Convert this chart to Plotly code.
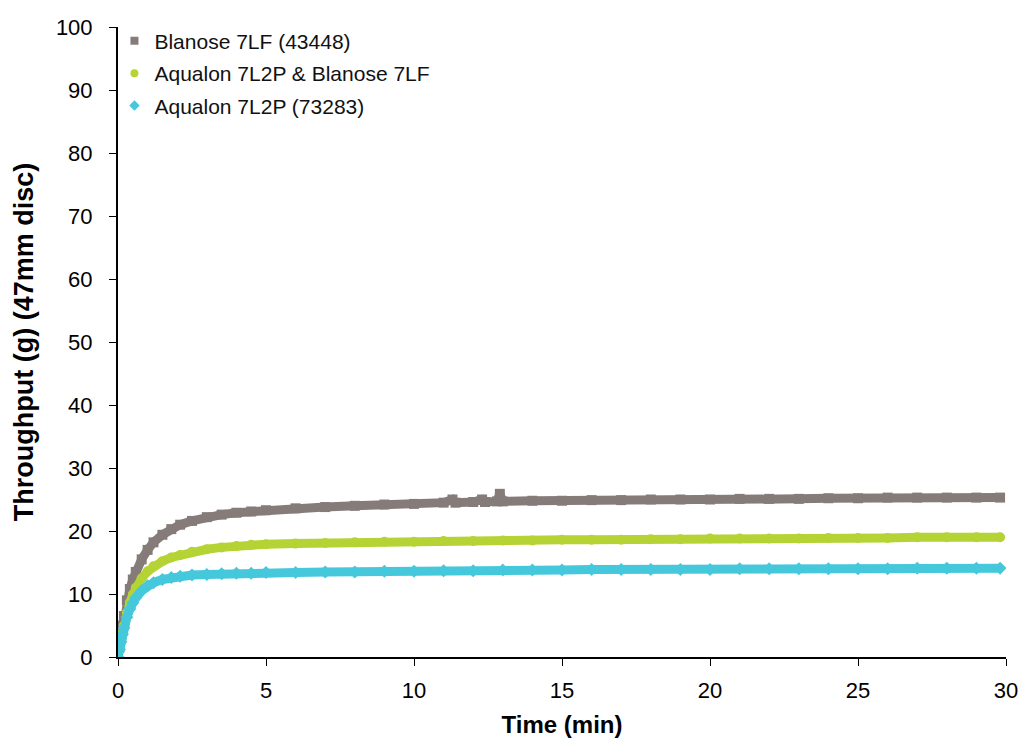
import plotly.graph_objects as go

# Time (min) and throughput (g) readings
t_blanose = [0, 0.05, 0.1, 0.15, 0.2, 0.3, 0.4, 0.5, 0.6, 0.8, 1.0, 1.2, 1.5, 1.8, 2.1, 2.5, 3, 3.5, 4, 4.5,
             5, 6, 7, 8, 9, 10, 11, 11.3, 11.4, 12, 12.3, 12.4, 12.8, 12.9, 13.0, 14, 15, 16, 17, 18, 19, 20,
             21, 22, 23, 24, 25, 26, 27, 28, 29, 29.8]
y_blanose = [0, 1.5, 3, 5, 6.5, 9, 10.8, 12.3, 13.5, 15.5, 17, 18.2, 19.4, 20.3, 21, 21.6, 22.2, 22.6, 22.9, 23.1,
             23.3, 23.6, 23.8, 24.0, 24.2, 24.3, 24.5, 25.0, 24.5, 24.6, 25.0, 24.6, 24.7, 25.9, 24.7, 24.8, 24.8, 24.9, 24.9, 25.0, 25.0, 25.0,
             25.1, 25.1, 25.1, 25.2, 25.2, 25.3, 25.3, 25.3, 25.3, 25.3]

t_mix = [0, 0.05, 0.1, 0.15, 0.2, 0.3, 0.4, 0.5, 0.6, 0.8, 1.0, 1.2, 1.5, 1.8, 2.1, 2.5, 3, 3.5, 4, 4.5,
         5, 6, 7, 8, 9, 10, 11, 12, 13, 14, 15, 16, 17, 18, 19, 20, 21, 22, 23, 24, 25, 26, 27, 28, 29, 29.8]
y_mix = [0, 1.2, 2.5, 3.8, 5, 7, 8.6, 9.9, 11, 12.5, 13.6, 14.4, 15.2, 15.8, 16.2, 16.7, 17.1, 17.4, 17.6, 17.8,
         17.9, 18.0, 18.1, 18.2, 18.3, 18.3, 18.4, 18.4, 18.5, 18.5, 18.6, 18.6, 18.6, 18.7, 18.7, 18.8, 18.8, 18.8,
         18.8, 18.9, 18.9, 18.9, 19.0, 19.0, 19.0, 19.0]

t_aqualon = [0, 0.05, 0.1, 0.15, 0.2, 0.3, 0.4, 0.5, 0.6, 0.8, 1.0, 1.2, 1.5, 1.8, 2.1, 2.5, 3, 3.5, 4, 4.5,
             5, 6, 7, 8, 9, 10, 11, 12, 13, 14, 15, 16, 17, 18, 19, 20, 21, 22, 23, 24, 25, 26, 27, 28, 29, 29.8]
y_aqualon = [0, 1.2, 2.4, 3.6, 4.6, 6.3, 7.6, 8.6, 9.4, 10.5, 11.3, 11.8, 12.3, 12.6, 12.8, 13.0, 13.1, 13.2, 13.3, 13.3,
             13.4, 13.4, 13.5, 13.5, 13.6, 13.6, 13.7, 13.7, 13.8, 13.8, 13.8, 13.9, 13.9, 13.9, 13.9, 13.9, 14.0, 14.0,
             14.0, 14.0, 14.0, 14.0, 14.1, 14.1, 14.1, 14.1]

x_ticks = [0, 5, 10, 15, 20, 25, 30]
y_ticks = [0, 10, 20, 30, 40, 50, 60, 70, 80, 90, 100]

names = ["Blanose 7LF (43448)", "Aqualon 7L2P & Blanose 7LF", "Aqualon 7L2P (73283)"]
colors = ["#857c7a", "#b5d334", "#45c8dc"]
symbols = ["square", "circle", "diamond"]
xs = [t_blanose, t_mix, t_aqualon]
ys = [y_blanose, y_mix, y_aqualon]

fig = go.Figure()
for i in range(3):
    fig.add_trace(go.Scatter(
        x=xs[i], y=ys[i], mode="lines+markers", showlegend=False,
        line=dict(color=colors[i], width=9),
        marker=dict(color=colors[i], symbol=symbols[i], size=10),
    ))
for i in range(3):
    fig.add_trace(go.Scatter(
        x=[None], y=[None], mode="markers", name=names[i], legendgroup=str(i),
        marker=dict(color=colors[i], symbol=symbols[i], size=8),
    ))

axis_font = dict(family="Liberation Sans, Arial, sans-serif", size=22, color="#000000")
fig.update_layout(
    width=1024, height=738,
    margin=dict(l=118, r=18, t=27, b=81),
    paper_bgcolor="white", plot_bgcolor="white",
    font=dict(family="Liberation Sans, Arial, sans-serif", color="#000000"),
    showlegend=True,
    legend=dict(x=-0.004, y=1.01, xanchor="left", yanchor="top",
                font=dict(size=21, color="#111111"), bgcolor="rgba(0,0,0,0)",
                traceorder="grouped", tracegroupgap=2, itemwidth=30),
    xaxis=dict(range=[0, 30], tickvals=x_ticks, showgrid=False, zeroline=False, automargin=False,
               showline=True, linecolor="#000000", linewidth=2, ticks="outside", ticklen=7,
               tickcolor="#000000", tickfont=axis_font, ticklabelstandoff=6, ticklabeloverflow="allow",
               title=dict(text="<b>Time (min)</b>", font=dict(size=24), standoff=16)),
    yaxis=dict(range=[0, 100], tickvals=y_ticks, showgrid=False, zeroline=False, automargin=False,
               showline=True, linecolor="#000000", linewidth=2, ticks="outside", ticklen=7,
               tickcolor="#000000", tickfont=axis_font, ticklabelstandoff=12,
               title=dict(text="<b>Throughput (g) (47mm disc)</b>", font=dict(size=27), standoff=14)),
)

fig.write_html("out.html")
